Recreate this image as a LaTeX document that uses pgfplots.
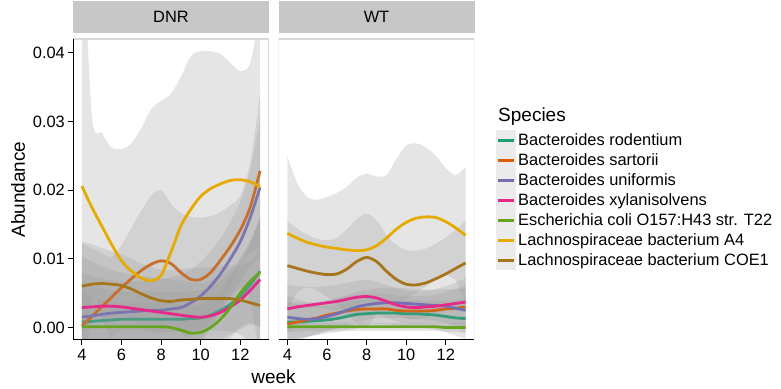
\documentclass[border=0pt]{standalone}
\usepackage{pgfplots}
\pgfplotsset{compat=1.18}
\usepackage{pgfplotstable}
\usepgfplotslibrary{fillbetween}
\usepackage{fontspec}
\setmainfont{Liberation Sans}
\definecolor{c1}{HTML}{1B9E77}
\definecolor{c2}{HTML}{D95F02}
\definecolor{c3}{HTML}{7570B3}
\definecolor{c4}{HTML}{E7298A}
\definecolor{c5}{HTML}{66A61E}
\definecolor{c6}{HTML}{E6AB02}
\definecolor{c7}{HTML}{A6761D}
\definecolor{ribfill}{gray}{0.6}
\colorlet{c1m}{c1!62!ribfill}
\colorlet{c2m}{c2!72!ribfill}
\colorlet{c3m}{c3!85!ribfill}
\colorlet{c1w}{c1!82!ribfill}
\colorlet{c2w}{c2!88!ribfill}
\definecolor{strip}{gray}{0.78}
\definecolor{keybg}{gray}{0.92}
\newcommand\fs{\fontsize{16.4bp}{19bp}\selectfont}
\newcommand\ft{\fontsize{19bp}{22bp}\selectfont}

\pgfplotstableread{
w rod rodh sar sarh uni unih xyl xylh eco ecoh a4 a4h coe coeh
4 0.0008 0.0060 0.0002 0.0121 0.0015 0.0065 0.0029 0.0075 0.0001 0.0050 0.0206 0.0400 0.0060 0.0065
4.5 0.0009 0.0052 0.0016 0.0099 0.0017 0.0058 0.0030 0.0066 0.0001 0.0044 0.0175 0.0135 0.0063 0.0058
5 0.0010 0.0046 0.0030 0.0078 0.0019 0.0052 0.0031 0.0058 0.0001 0.0039 0.0148 0.0135 0.0064 0.0052
5.5 0.0011 0.0042 0.0044 0.0059 0.0021 0.0048 0.0031 0.0053 0.0001 0.0036 0.0121 0.0141 0.0063 0.0048
6 0.0012 0.0040 0.0058 0.0062 0.0022 0.0045 0.0030 0.0050 0.0001 0.0035 0.0097 0.0163 0.0061 0.0045
6.5 0.0012 0.0040 0.0071 0.0074 0.0023 0.0044 0.0028 0.0049 0.0001 0.0035 0.0082 0.0186 0.0056 0.0044
7 0.0012 0.0040 0.0083 0.0087 0.0024 0.0044 0.0026 0.0049 0.0001 0.0035 0.0072 0.0218 0.0049 0.0044
7.5 0.0012 0.0040 0.0092 0.0100 0.0025 0.0045 0.0024 0.0050 0.0001 0.0035 0.0068 0.0250 0.0043 0.0045
8 0.0012 0.0040 0.0097 0.0103 0.0025 0.0045 0.0022 0.0050 0.0001 0.0035 0.0076 0.0254 0.0039 0.0045
8.5 0.0012 0.0040 0.0093 0.0087 0.0027 0.0046 0.0020 0.0050 0.0000 0.0036 0.0110 0.0230 0.0038 0.0045
9 0.0012 0.0040 0.0080 0.0087 0.0029 0.0047 0.0018 0.0050 -0.0004 0.0037 0.0148 0.0217 0.0040 0.0045
9.5 0.0013 0.0040 0.0070 0.0091 0.0036 0.0048 0.0016 0.0050 -0.0008 0.0038 0.0172 0.0223 0.0041 0.0045
10 0.0014 0.0040 0.0070 0.0090 0.0046 0.0050 0.0015 0.0050 -0.0007 0.0040 0.0191 0.0211 0.0042 0.0045
10.5 0.0018 0.0041 0.0080 0.0082 0.0060 0.0051 0.0017 0.0051 0.0000 0.0041 0.0202 0.0200 0.0042 0.0046
11 0.0025 0.0042 0.0098 0.0070 0.0078 0.0052 0.0022 0.0053 0.0012 0.0042 0.0209 0.0189 0.0042 0.0047
11.5 0.0034 0.0044 0.0118 0.0060 0.0100 0.0054 0.0030 0.0055 0.0029 0.0044 0.0214 0.0171 0.0042 0.0048
12 0.0046 0.0048 0.0142 0.0050 0.0125 0.0058 0.0040 0.0060 0.0050 0.0050 0.0215 0.0158 0.0040 0.0050
12.5 0.0062 0.0058 0.0175 0.0065 0.0160 0.0070 0.0054 0.0070 0.0067 0.0060 0.0212 0.0173 0.0036 0.0060
13 0.0082 0.0080 0.0228 0.0112 0.0204 0.0100 0.0070 0.0090 0.0080 0.0080 0.0205 0.0255 0.0032 0.0080
}\dnr

\pgfplotstableread{
w rod rodh sar sarh uni unih xyl xylh eco ecoh a4 a4h coe coeh
4 0.0008 0.0030 0.0005 0.0032 0.0015 0.0032 0.0027 0.0035 0.0001 0.0008 0.0137 0.0112 0.0090 0.0064
4.5 0.0008 0.0026 0.0008 0.0028 0.0013 0.0028 0.0030 0.0030 0.0001 0.0007 0.0130 0.0080 0.0086 0.0058
5 0.0009 0.0023 0.0011 0.0025 0.0012 0.0025 0.0032 0.0027 0.0001 0.0006 0.0124 0.0066 0.0082 0.0053
5.5 0.0010 0.0021 0.0014 0.0023 0.0013 0.0023 0.0034 0.0025 0.0001 0.0006 0.0120 0.0066 0.0079 0.0050
6 0.0011 0.0020 0.0018 0.0022 0.0016 0.0022 0.0036 0.0024 0.0001 0.0006 0.0117 0.0073 0.0077 0.0050
6.5 0.0013 0.0020 0.0021 0.0022 0.0020 0.0022 0.0038 0.0024 0.0001 0.0006 0.0115 0.0081 0.0078 0.0053
7 0.0016 0.0020 0.0024 0.0022 0.0025 0.0022 0.0041 0.0024 0.0001 0.0006 0.0113 0.0092 0.0085 0.0058
7.5 0.0019 0.0020 0.0026 0.0022 0.0030 0.0022 0.0044 0.0024 0.0001 0.0006 0.0112 0.0106 0.0096 0.0062
8 0.0020 0.0020 0.0027 0.0022 0.0033 0.0022 0.0045 0.0024 0.0001 0.0006 0.0113 0.0111 0.0102 0.0064
8.5 0.0021 0.0020 0.0027 0.0022 0.0035 0.0022 0.0043 0.0024 0.0001 0.0006 0.0119 0.0101 0.0096 0.0060
9 0.0021 0.0020 0.0027 0.0022 0.0036 0.0022 0.0038 0.0024 0.0001 0.0006 0.0130 0.0092 0.0082 0.0053
9.5 0.0021 0.0020 0.0025 0.0022 0.0036 0.0022 0.0033 0.0024 0.0001 0.0006 0.0143 0.0102 0.0070 0.0050
10 0.0020 0.0020 0.0024 0.0022 0.0035 0.0022 0.0030 0.0024 0.0001 0.0006 0.0153 0.0112 0.0063 0.0050
10.5 0.0020 0.0020 0.0024 0.0022 0.0034 0.0022 0.0029 0.0024 0.0001 0.0006 0.0159 0.0109 0.0062 0.0050
11 0.0019 0.0020 0.0024 0.0022 0.0033 0.0022 0.0030 0.0024 0.0001 0.0006 0.0161 0.0101 0.0065 0.0050
11.5 0.0018 0.0021 0.0025 0.0023 0.0032 0.0023 0.0031 0.0025 0.0001 0.0006 0.0160 0.0090 0.0071 0.0051
12 0.0016 0.0023 0.0027 0.0025 0.0031 0.0025 0.0033 0.0027 0.0000 0.0006 0.0154 0.0078 0.0078 0.0053
12.5 0.0014 0.0026 0.0028 0.0028 0.0028 0.0028 0.0035 0.0030 0.0000 0.0007 0.0145 0.0077 0.0086 0.0056
13 0.0013 0.0030 0.0030 0.0032 0.0025 0.0032 0.0037 0.0035 0.0000 0.0008 0.0134 0.0100 0.0094 0.0062
}\wt

% #1 table, #2 column, #3 line colour, #4 path tag, #5 legend colour
\newcommand{\spec}[5]{%
  \addplot[draw=none, smooth, forget plot, name path=u#4] table[x=w, y expr=\thisrow{#2}+\thisrow{#2h}] {#1};
  \addplot[draw=none, smooth, forget plot, name path=l#4] table[x=w, y expr=\thisrow{#2}-\thisrow{#2h}] {#1};
  \addplot[fill=ribfill, fill opacity=0.25, forget plot] fill between[of=u#4 and l#4];
  \addplot[color=#3, line width=2.8bp, smooth, forget plot] table[x=w, y=#2] {#1};
  \addlegendimage{color=#5, line width=2.8bp}
}

\pgfplotsset{
  panel/.style={
    scale only axis, width=196bp, height=301bp, anchor=south west,
    xmin=3.55, xmax=13.45, ymin=-0.00182, ymax=0.04199,
    axis on top, axis x line*=bottom,
    xtick={4,6,8,10,12}, tick align=outside, major tick length=5bp,
    tick style={black, line width=1bp}, axis line style={black, line width=1bp},
    ticklabel style={font=\fs}, /pgf/number format/assume math mode=true,
    xticklabel style={inner sep=0pt, yshift=-4bp},
    title style={at={(0.5,1)}, anchor=south, fill=strip, minimum width=196bp,
      minimum height=32bp, inner sep=0pt, font=\fs, yshift=0pt},
    label style={font=\ft},
  }
}

\begin{document}
\begin{tikzpicture}
\begin{axis}[panel, at={(73bp,49bp)}, title=DNR,
  axis y line*=left, ytick={0,0.01,0.02,0.03,0.04}, scaled y ticks=false,
  yticklabel style={/pgf/number format/fixed, /pgf/number format/fixed zerofill,
    /pgf/number format/precision=2, inner sep=0pt, xshift=-3bp},
  ylabel={Abundance}, ylabel style={at={(axis description cs:-0.2806,0.5)}, anchor=center},
  xlabel={week}, xlabel style={at={(axis description cs:1.023,0)}, anchor=base, yshift=-43bp},
]
\spec{\dnr}{rod}{c1m}{da}{c1}
\spec{\dnr}{sar}{c2m}{db}{c2}
\spec{\dnr}{uni}{c3m}{dc}{c3}
\spec{\dnr}{xyl}{c4}{dd}{c4}
\spec{\dnr}{eco}{c5}{de}{c5}
\spec{\dnr}{a4}{c6}{df}{c6}
\spec{\dnr}{coe}{c7}{dg}{c7}
\draw[gray!30, line width=1.5bp] (rel axis cs:0,0) rectangle (rel axis cs:1,1);
\end{axis}
\begin{axis}[panel, at={(278.5bp,49bp)}, title=WT, axis y line=none,
  legend style={at={(axis description cs:1.1097,0.6977)}, anchor=north west,
    draw=none, fill=none, inner sep=0pt, row sep=0pt,
    nodes={inner xsep=2bp, inner ysep=0pt}, font=\fs},
  legend cell align=left,
  legend image code/.code={\fill[keybg, draw=none] (0bp,-10bp) rectangle (20bp,10bp);
    \draw (1.5bp,0bp) -- (17.5bp,0bp);},
  legend entries={Bacteroides rodentium, Bacteroides sartorii, Bacteroides uniformis,
    Bacteroides xylanisolvens, Escherichia coli O157:H43 str. T22,
    Lachnospiraceae bacterium A4, Lachnospiraceae bacterium COE1},
]
\spec{\wt}{rod}{c1w}{wa}{c1}
\spec{\wt}{sar}{c2w}{wb}{c2}
\spec{\wt}{uni}{c3}{wc}{c3}
\spec{\wt}{xyl}{c4}{wd}{c4}
\spec{\wt}{eco}{c5}{we}{c5}
\spec{\wt}{a4}{c6}{wf}{c6}
\spec{\wt}{coe}{c7}{wg}{c7}
\draw[gray!30, line width=1.5bp] (rel axis cs:0,0) rectangle (rel axis cs:1,1);
\end{axis}
\node[anchor=base west, font=\ft, inner sep=0pt] at (498bp,267bp) {Species};
\pgfresetboundingbox
\path (0bp,0bp) rectangle (781bp,389bp);
\end{tikzpicture}
\end{document}
